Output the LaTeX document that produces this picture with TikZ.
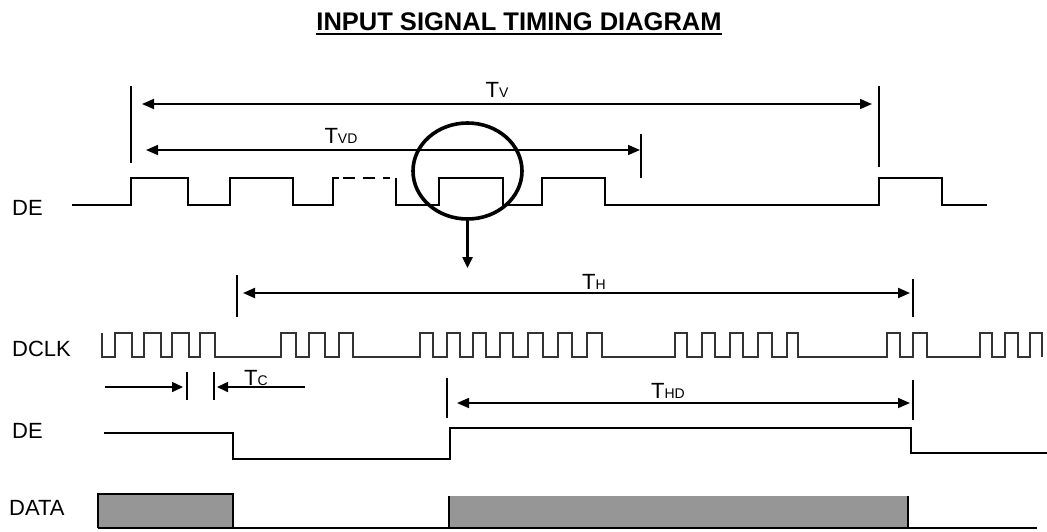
\documentclass[tikz,border=0pt]{standalone}
\usepackage{fontspec}
\setmainfont{Liberation Sans}
\usetikzlibrary{arrows.meta,shapes.geometric}
\newcommand\Tlab[1]{{\fontsize{22}{24}\selectfont T}{\fontsize{14}{16}\selectfont #1}}
\begin{document}
\begin{tikzpicture}[x=1pt,y=-1pt,
  wave/.style={line width=2.6pt, line join=miter},
  clk/.style={line width=1.8pt, draw=black!80, line join=miter},
  dim/.style={line width=1.6pt},
  bar/.style={line width=1.4pt},
  tipboth/.style={{Triangle[length=12pt,width=10pt]}-{Triangle[length=12pt,width=10pt]}},
  tipend/.style={-{Triangle[length=11pt,width=10pt]}},
  sig/.style={font=\fontsize{22}{24}\selectfont, anchor=base west, inner sep=0pt},
  tlab/.style={anchor=base, inner sep=0pt},
]
\useasboundingbox (0,0) rectangle (1047,531);

% title
\node[anchor=base, inner sep=0pt, font=\fontsize{25.5}{28}\selectfont\bfseries] (title) at (519,30) {INPUT SIGNAL TIMING DIAGRAM};
\draw[line width=2.4pt] ([yshift=-4pt]title.base west) -- ([yshift=-4pt]title.base east);

% signal names
\node[sig] (de1) at (12,215) {DE};
\node[sig] (dclk) at (12,356) {DCLK};
\node[sig] (de2) at (12,438) {DE};
\node[sig] (data) at (9,515) {DATA};

% top DE waveform
\draw[wave] (72,205) -| (131,178) -| (188,205) -| (230,178) -| (293,205) -| (333,178) -- (339,178);
\draw[wave, line width=2pt, dash pattern=on 12pt off 8pt] (343,178) -- (390,178);
\draw[wave] (396,178) -- (396,205) -| (439,178) -| (503,205) -| (542,178) -| (605,205) -| (879,178) -| (942,205) -- (987,205);

% Tv and TVD
\coordinate (tvl) at (142,104);
\coordinate (tvr) at (872,104);
\draw[bar] (131,86) -- (131,163);
\draw[bar] (879,86) -- (879,167);
\draw[dim, tipboth] (tvl) -- (tvr);
\node[tlab] (tv) at (497,97) {\Tlab{V}};

\coordinate (tvdl) at (146,150);
\coordinate (tvdr) at (640,150);
\draw[bar] (641,134) -- (641,178);
\draw[dim, tipboth] (tvdl) -- (tvdr);
\node[tlab] (tvd) at (341,143) {\Tlab{VD}};

% magnifier circle and arrow
\node[draw, ellipse, line width=3.6pt, minimum width=109pt, minimum height=96pt, inner sep=0pt] (mag) at (467.5,171) {};
\coordinate (down) at (467.5,268);
\draw[line width=2.4pt, tipend] (mag.south) -- (down);

% TH
\coordinate (thl) at (243,293);
\coordinate (thr) at (910,293);
\draw[bar] (237,275) -- (237,317);
\draw[bar] (913,279) -- (913,317);
\draw[dim, line width=2pt, tipboth] (thl) -- (thr);
\node[tlab] (th) at (594,289) {\Tlab{H}};

% DCLK
\draw[clk] (102,333) |- (115,357) |- (132,333) |- (144,357) |- (161,333) |- (172,357) |- (189,333) |- (200,357) |- (215,333) |- (281,357) |- (296,333) |- (309,357) |- (325,333) |- (339,357) |- (353,333) |- (420,357) |- (433,333) |- (447,357) |- (460,333) |- (473,357) |- (486,333) |- (500,357) |- (513,333) |- (528,357) |- (543,333) |- (558,357) |- (572,333) |- (587,357) |- (602,333) |- (675,357) |- (687,333) |- (702,357) |- (715,333) |- (730,357) |- (743,333) |- (758,357) |- (772,333) |- (787,357) |- (798,333) |- (887,357) |- (900,333) |- (913,357) |- (927,333) |- (980,357) |- (992,333) |- (1005,357) |- (1018,333) |- (1030,357) |- (1042,333) -- (1042,357);

% Tc
\coordinate (tca) at (105,387);
\coordinate (tcb) at (183,387);
\coordinate (tcc) at (305,387);
\coordinate (tcd) at (217,387);
\draw[bar] (187,372) -- (187,400);
\draw[bar] (214,372) -- (214,400);
\draw[dim, tipend] (tca) -- (tcb);
\draw[dim, tipend] (tcc) -- (tcd);
\node[tlab] (tc) at (256,385) {\Tlab{C}};

% THD
\coordinate (thdl) at (457,403);
\coordinate (thdr) at (910,403);
\draw[bar] (447,378) -- (447,418);
\draw[bar] (913,380) -- (913,420);
\draw[dim, tipboth] (thdl) -- (thdr);
\node[tlab] (thd) at (668,398) {\Tlab{HD}};

% lower DE
\draw[wave] (104,433) -- (233,433) -- (233,459) -- (450,459) -- (450,428) -- (911,428) -- (911,453) -- (1047,453);

% DATA
\fill[black!41] (98,494) rectangle (233,528);
\fill[black!41] (449,496) rectangle (908,528);
\draw[line width=2pt] (98,528) -- (98,494) -- (233,494) -- (233,528);
\draw[line width=2pt] (449,528) -- (449,496);
\draw[line width=2pt] (908,496) -- (908,528);
\draw[line width=2.2pt] (98,528) -- (1037,528);
\end{tikzpicture}
\end{document}
